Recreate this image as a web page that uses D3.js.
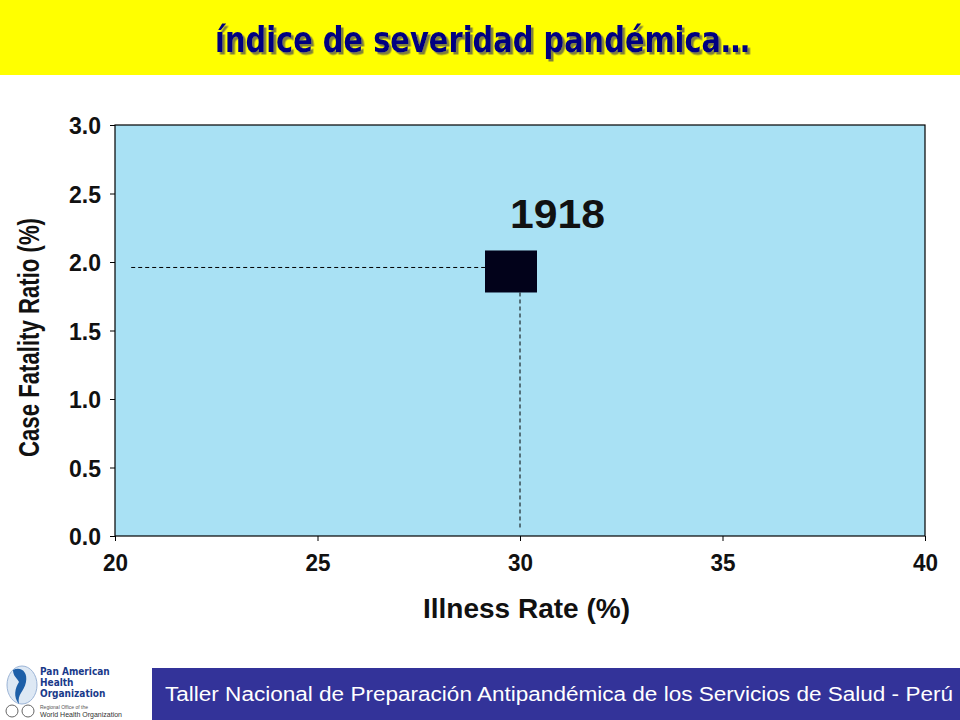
<!DOCTYPE html>
<html><head><meta charset="utf-8">
<script src="https://cdn.jsdelivr.net/npm/d3@7"></script>
<style>body{margin:0;background:#fff}svg{display:block}</style>
</head><body>
<script>
const title = "índice de severidad pandémica…";
const xTicks = [20, 25, 30, 35, 40];
const yTicks = [0.0, 0.5, 1.0, 1.5, 2.0, 2.5, 3.0];
const pointLabels = ["1918"];
const illnessRate = [30];
const caseFatality = [1.96];
const xTitle = "Illness Rate (%)";
const yTitle = "Case Fatality Ratio (%)";
const footer = "Taller Nacional de Preparación Antipandémica de los Servicios de Salud - Perú";

const W = 960, H = 720;
const svg = d3.select("body").append("svg").attr("width", W).attr("height", H);
const bold = "'Liberation Sans',Arial,sans-serif";
const cond = "'DejaVu Sans Condensed','Liberation Sans',sans-serif";

const defs = svg.append("defs");
defs.append("filter").attr("id","shadow").attr("x","-5%").attr("y","-20%").attr("width","110%").attr("height","140%")
  .append("feDropShadow").attr("dx",2.5).attr("dy",2.5).attr("stdDeviation",0.4)
  .attr("flood-color","#80803a").attr("flood-opacity",1);

// header
svg.append("rect").attr("x",0).attr("y",0).attr("width",W).attr("height",75).attr("fill","#ffff00");
svg.append("text").attr("x",215).attr("y",52)
  .attr("font-family",cond).attr("font-weight","bold").attr("font-size",36)
  .attr("textLength",535).attr("lengthAdjust","spacingAndGlyphs").attr("fill","#000080")
  .attr("filter","url(#shadow)").text(title);

const x = d3.scaleLinear().domain([20,40]).range([115,925]);
const y = d3.scaleLinear().domain([0,3]).range([536,125]);

svg.append("rect").attr("x",x(20)).attr("y",y(3)).attr("width",x(40)-x(20)).attr("height",y(0)-y(3))
  .attr("fill","#a9e1f4").attr("stroke","#000").attr("stroke-width",1.2);

const xa = svg.append("g").attr("transform",`translate(0,${y(0)})`)
  .call(d3.axisBottom(x).tickValues(xTicks).tickSize(5).tickFormat(d3.format("d")));
xa.select(".domain").remove();
xa.selectAll("text").attr("font-family",bold).attr("font-weight","bold").attr("font-size",23)
  .attr("fill","#111").attr("y",35).attr("dy",0).attr("textLength",25).attr("lengthAdjust","spacingAndGlyphs");
const ya = svg.append("g").attr("transform",`translate(${x(20)},0)`)
  .call(d3.axisLeft(y).tickValues(yTicks).tickSize(5).tickFormat(d3.format(".1f")));
ya.select(".domain").remove();
ya.selectAll("text").attr("font-family",bold).attr("font-weight","bold").attr("font-size",24)
  .attr("fill","#111").attr("x",-14).attr("dy","0.36em").attr("textLength",32).attr("lengthAdjust","spacingAndGlyphs");

svg.append("text").attr("x",423).attr("y",618)
  .attr("font-family",bold).attr("font-weight","bold").attr("font-size",28).attr("fill","#111")
  .attr("textLength",207).attr("lengthAdjust","spacingAndGlyphs").text(xTitle);
svg.append("text").attr("transform","translate(39,457) rotate(-90)")
  .attr("font-family",bold).attr("font-weight","bold").attr("font-size",29).attr("fill","#111")
  .attr("textLength",239).attr("lengthAdjust","spacingAndGlyphs").text(yTitle);

// point with guides
illnessRate.forEach((v,i)=>{
  const px = x(v), py = y(caseFatality[i]);
  svg.append("line").attr("x1",x(20.4)).attr("x2",px-35).attr("y1",py).attr("y2",py)
    .attr("stroke","#000").attr("stroke-dasharray","4,3").attr("stroke-width",1);
  svg.append("line").attr("x1",px).attr("x2",px).attr("y1",py+25).attr("y2",y(0.06))
    .attr("stroke","#000").attr("stroke-dasharray","4,3").attr("stroke-width",1);
  svg.append("rect").attr("x",px-35).attr("y",py-17).attr("width",52).attr("height",42).attr("fill","#02021a");
  svg.append("text").attr("x",px-10).attr("y",py-39).attr("font-family",bold)
    .attr("font-weight","bold").attr("font-size",40).attr("fill","#111")
    .attr("textLength",95).attr("lengthAdjust","spacingAndGlyphs").text(pointLabels[i]);
});

// footer
svg.append("rect").attr("x",152).attr("y",668).attr("width",W-152).attr("height",52).attr("fill","#333399");
svg.append("text").attr("x",165).attr("y",701).attr("font-family",bold)
  .attr("font-size",20).attr("fill","#fff").attr("textLength",788).attr("lengthAdjust","spacingAndGlyphs").text(footer);

// logo
const lg = svg.append("g");
lg.append("ellipse").attr("cx",22).attr("cy",685).attr("rx",15).attr("ry",19).attr("fill","#dde8f4").attr("stroke","#9bb4d6");
lg.append("path").attr("d","M13,670 C21,666 28,672 26,682 C24,692 17,694 19,704 C13,697 15,688 19,682 C17,678 13,676 13,670Z").attr("fill","#1d5fa8");
["Pan American","Health","Organization"].forEach((t,i)=>{
  lg.append("text").attr("x",40).attr("y",675+i*11).attr("font-family",cond)
    .attr("font-weight","bold").attr("font-size",10).attr("fill","#1a3a8a").text(t);
});
lg.append("circle").attr("cx",12).attr("cy",711).attr("r",6).attr("fill","none").attr("stroke","#666");
lg.append("circle").attr("cx",28).attr("cy",711).attr("r",6).attr("fill","none").attr("stroke","#666");
lg.append("text").attr("x",40).attr("y",709).attr("font-family",bold).attr("font-size",5).attr("fill","#555").text("Regional Office of the");
lg.append("text").attr("x",40).attr("y",717).attr("font-family",bold).attr("font-size",7).attr("fill","#333").text("World Health Organization");
</script>
</body></html>
